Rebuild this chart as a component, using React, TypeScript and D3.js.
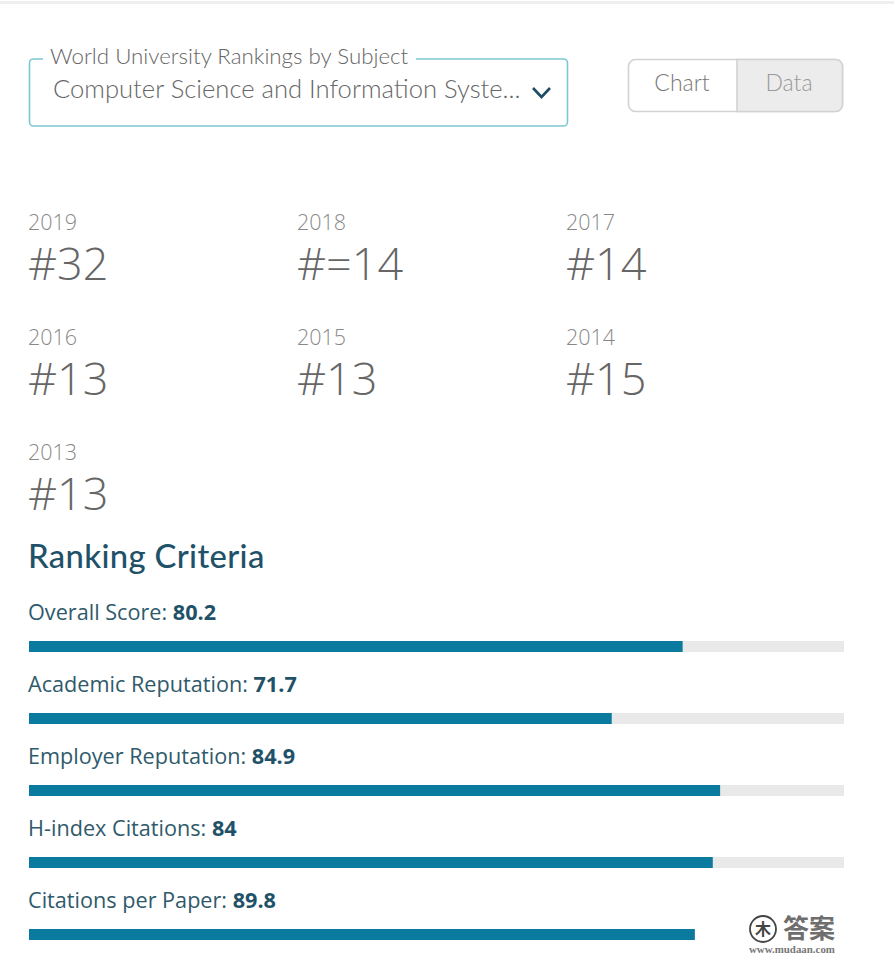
import * as d3 from "d3";
import { useEffect, useRef } from "react";

const years = ["2019", "2018", "2017", "2016", "2015", "2014", "2013"];
const ranks = ["#32", "#=14", "#14", "#13", "#13", "#15", "#13"];

const criteria = [
  "Overall Score: ",
  "Academic Reputation: ",
  "Employer Reputation: ",
  "H-index Citations: ",
  "Citations per Paper: ",
];
const scoreLabels = ["80.2", "71.7", "84.9", "84", "89.8"];
// bar lengths as drawn, the last one is shorter than its label says
const barValues = [80.2, 71.5, 84.8, 83.9, 81.7];
const hasTrack = [true, true, true, true, false];

const WIDTH = 894;
const HEIGHT = 964;
const OPEN = "'Open Sans', sans-serif";
const HEAD = "Lato, 'Open Sans', sans-serif";

const drawChart = (target: SVGSVGElement) => {
  const svg = d3.select(target);
  svg.selectAll("*").remove();
  svg
    .append("rect")
    .attr("width", WIDTH)
    .attr("height", HEIGHT)
    .attr("fill", "#ffffff");
  svg
    .append("rect")
    .attr("y", 1)
    .attr("width", WIDTH)
    .attr("height", 3)
    .attr("fill", "#efefef");

  // dropdown
  svg
    .append("rect")
    .attr("x", 29.5)
    .attr("y", 59)
    .attr("width", 538)
    .attr("height", 67)
    .attr("rx", 4)
    .attr("fill", "#fff")
    .attr("stroke", "#7cc8d2")
    .attr("stroke-width", 1.6);
  svg
    .append("rect")
    .attr("x", 43)
    .attr("y", 52)
    .attr("width", 373)
    .attr("height", 14)
    .attr("fill", "#fff");
  svg
    .append("text")
    .text("World University Rankings by Subject")
    .attr("x", 50)
    .attr("y", 63.5)
    .attr("font-family", HEAD)
    .attr("font-size", 22.3)
    .attr("font-weight", 300)
    .attr("fill", "#666");
  svg
    .append("text")
    .text("Computer Science and Information Syste...")
    .attr("x", 53)
    .attr("y", 98)
    .attr("font-family", HEAD)
    .attr("font-size", 25.6)
    .attr("font-weight", 300)
    .attr("fill", "#666");
  svg
    .append("path")
    .attr("d", d3.line()([[533, 88], [541.5, 97], [550, 88]]))
    .attr("fill", "none")
    .attr("stroke", "#1d4e63")
    .attr("stroke-width", 2.6);

  // chart / data toggle
  svg
    .append("rect")
    .attr("x", 628.5)
    .attr("y", 59.5)
    .attr("width", 214)
    .attr("height", 52)
    .attr("rx", 7)
    .attr("fill", "#fff")
    .attr("stroke", "#d2d2d2")
    .attr("stroke-width", 1.6);
  svg
    .append("path")
    .attr(
      "d",
      "M737 59.5H835.5a7 7 0 0 1 7 7V104.5a7 7 0 0 1 -7 7H737Z"
    )
    .attr("fill", "#ececec")
    .attr("stroke", "#d2d2d2")
    .attr("stroke-width", 1.6);
  svg
    .selectAll(".toggle")
    .data(["Chart", "Data"])
    .join("text")
    .text((d) => d)
    .attr("x", (_, i) => (i === 0 ? 682 : 789))
    .attr("y", 91)
    .attr("text-anchor", "middle")
    .attr("font-family", HEAD)
    .attr("font-size", 23)
    .attr("font-weight", 300)
    .attr("fill", (_, i) => (i === 0 ? "#777" : "#999"));

  // yearly ranks
  const colScale = d3.scalePoint<number>().domain([0, 1, 2]).range([28, 566]);
  const rowScale = d3.scalePoint<number>().domain([0, 1, 2]).range([230, 460]);
  const cells = svg
    .selectAll(".rank")
    .data(years)
    .join("g")
    .attr(
      "transform",
      (_, i) =>
        `translate(${colScale(i % 3)},${rowScale(Math.floor(i / 3))})`
    );
  cells
    .append("text")
    .text((d) => d)
    .attr("font-family", OPEN)
    .attr("font-size", 21.5)
    .attr("font-weight", 300)
    .attr("fill", "#888");
  cells
    .append("text")
    .text((_, i) => ranks[i])
    .attr("y", 50)
    .attr("font-family", OPEN)
    .attr("font-size", 45)
    .attr("font-weight", 300)
    .attr("fill", "#666");

  // criteria
  svg
    .append("text")
    .text("Ranking Criteria")
    .attr("x", 28)
    .attr("y", 568)
    .attr("font-family", HEAD)
    .attr("font-size", 32.8)
    .attr("letter-spacing", 0.35)
    .attr("font-weight", 500)
    .attr("fill", "#1f5268");

  const xScale = d3.scaleLinear().domain([0, 100]).range([29, 844]);
  const yScale = d3
    .scalePoint<number>()
    .domain(d3.range(criteria.length))
    .range([641, 929]);
  const rows = svg.selectAll(".row").data(criteria).join("g");
  rows
    .append("rect")
    .attr("x", xScale(0))
    .attr("y", (_, i) => yScale(i)!)
    .attr("width", (_, i) => (hasTrack[i] ? xScale(100) - xScale(0) : 0))
    .attr("height", 11)
    .attr("fill", "#e9e9e9");
  rows
    .append("rect")
    .attr("x", xScale(0))
    .attr("y", (_, i) => yScale(i)!)
    .attr("width", (_, i) => xScale(barValues[i]) - xScale(0))
    .attr("height", 11)
    .attr("fill", "#0a7a9f");
  const labels = rows
    .append("text")
    .attr("x", 28)
    .attr("y", (_, i) => yScale(i)! - 21.5)
    .attr("font-family", OPEN)
    .attr("font-size", 21.65)
    .attr("fill", "#2f5a6b");
  labels.append("tspan").text((d) => d);
  labels
    .append("tspan")
    .text((_, i) => scoreLabels[i])
    .attr("font-weight", 700)
    .attr("fill", "#1f5268");

  // watermark
  const mark = svg.append("g").attr("fill", "#666");
  mark
    .append("circle")
    .attr("cx", 763)
    .attr("cy", 929)
    .attr("r", 13)
    .attr("fill", "none")
    .attr("stroke", "#444")
    .attr("stroke-width", 1.8);
  mark
    .append("text")
    .text("木")
    .attr("x", 763)
    .attr("y", 935)
    .attr("text-anchor", "middle")
    .attr("font-family", "'Noto Sans CJK SC'")
    .attr("font-size", 16)
    .attr("font-weight", 700)
    .attr("fill", "#444");
  mark
    .append("text")
    .text("答案")
    .attr("x", 783)
    .attr("y", 938)
    .attr("font-family", "'Noto Sans CJK SC'")
    .attr("font-size", 26)
    .attr("font-weight", 700)
    .attr("fill", "#6e6e6e");
  mark
    .append("text")
    .text("www.mudaan.com")
    .attr("x", 749)
    .attr("y", 953)
    .attr("font-family", "'Liberation Serif', serif")
    .attr("font-size", 10.9)
    .attr("font-weight", 700)
    .attr("fill", "#777");
};

const App = () => {
  const ref = useRef<SVGSVGElement>(null);
  useEffect(() => {
    if (ref.current) drawChart(ref.current);
  }, []);
  return (
    <svg
      ref={ref}
      width={WIDTH}
      height={HEIGHT}
      style={{ position: "fixed", left: 0, top: 0 }}
    />
  );
};

export default App;
